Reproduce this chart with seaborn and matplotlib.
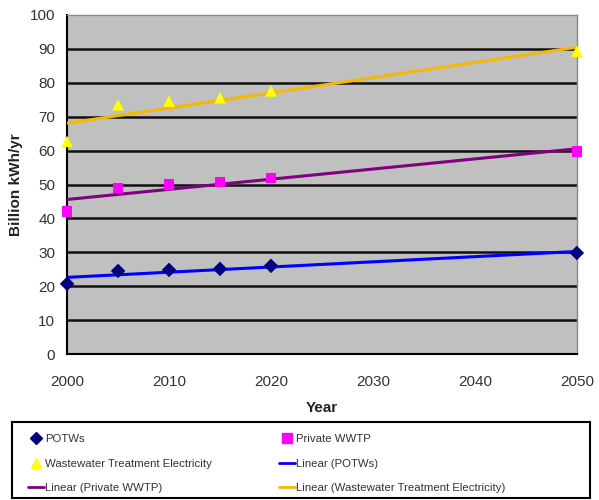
import numpy as np
import pandas as pd
import matplotlib
matplotlib.use('Agg')
import matplotlib.pyplot as plt
import seaborn as sns
from matplotlib.lines import Line2D

# Data
years = [2000, 2005, 2010, 2015, 2020, 2050]
potws = [20.7, 24.5, 24.8, 25.1, 26.0, 29.8]
private_wwtp = [42.0, 49.0, 50.0, 50.7, 52.0, 59.7]
wte = [62.7, 73.5, 74.6, 75.6, 77.6, 89.3]

sns.set_style('white')
plt.rcParams['font.family'] = ['Liberation Sans', 'DejaVu Sans']

df = pd.DataFrame({'Year': years, 'POTWs': potws,
                   'Private WWTP': private_wwtp,
                   'Wastewater Treatment Electricity': wte})

fig = plt.figure(figsize=(5.99, 5.0), dpi=100)
ax = fig.add_axes([0.112, 0.292, 0.851, 0.678])
ax.set_facecolor('#C0C0C0')

# horizontal gridlines
for yv in range(10, 100, 10):
    ax.axhline(yv, color='#111111', lw=1.8, zorder=1)

# trend lines (least squares)
sns.regplot(data=df, x='Year', y='POTWs', scatter=False, ci=None, ax=ax,
            line_kws=dict(color='#0000FF', lw=2.2, zorder=3))
sns.regplot(data=df, x='Year', y='Private WWTP', scatter=False, ci=None, ax=ax,
            line_kws=dict(color='#800080', lw=2.2, zorder=3))
sns.regplot(data=df, x='Year', y='Wastewater Treatment Electricity', scatter=False,
            ci=None, ax=ax, line_kws=dict(color='#F5B800', lw=2.2, zorder=3))

# data points
sns.scatterplot(data=df, x='Year', y='POTWs', marker='D', color='#000080', s=55,
                edgecolor='none', ax=ax, zorder=4, clip_on=False)
sns.scatterplot(data=df, x='Year', y='Private WWTP', marker='s', color='#FF00FF', s=55,
                edgecolor='none', ax=ax, zorder=4, clip_on=False)
sns.scatterplot(data=df, x='Year', y='Wastewater Treatment Electricity', marker='^',
                color='#FFFF00', s=70, edgecolor='none', ax=ax, zorder=4, clip_on=False)

ax.set_xlim(2000, 2050)
ax.set_ylim(0, 100)
ax.set_xticks(range(2000, 2051, 10))
ax.set_yticks(range(0, 101, 10))
ax.tick_params(axis='both', labelsize=11, labelcolor='#333333', color='black',
               length=5, width=1.5, direction='out')
ax.tick_params(axis='x', pad=10)
for side in ['top', 'right']:
    ax.spines[side].set_color('#888888')
    ax.spines[side].set_linewidth(1.0)
for side in ['left', 'bottom']:
    ax.spines[side].set_color('black')
    ax.spines[side].set_linewidth(1.5)

ax.set_xlabel('Year', fontsize=11, fontweight='bold', color='#222222', labelpad=9)
ax.set_ylabel('Billion kWh/yr', fontsize=11, fontweight='bold', color='#222222', labelpad=5)

# legend box under the chart
lax = fig.add_axes([12 / 599, 2 / 500, 578 / 599, 76 / 500])
lax.set_xticks([])
lax.set_yticks([])
lax.set_facecolor('white')
for sp in lax.spines.values():
    sp.set_color('black')
    sp.set_linewidth(1.5)

handles = [
    Line2D([], [], ls='none', marker='D', color='#000080', markersize=6),
    Line2D([], [], ls='none', marker='^', color='#FFFF00', markersize=7),
    Line2D([], [], color='#800080', lw=2),
    Line2D([], [], ls='none', marker='s', color='#FF00FF', markersize=7),
    Line2D([], [], color='#0000FF', lw=2),
    Line2D([], [], color='#F5B800', lw=2),
]
labels = ['POTWs', 'Wastewater Treatment Electricity', 'Linear (Private WWTP)',
          'Private WWTP', 'Linear (POTWs)', 'Linear (Wastewater Treatment Electricity)']
leg = lax.legend(handles, labels, ncol=2, loc='upper left',
                 bbox_to_anchor=(0.017, 0.92), frameon=False,
                 fontsize=8.2, handlelength=1.4, handletextpad=0.1,
                 borderaxespad=0, labelspacing=1.25, borderpad=0.55,
                 columnspacing=5.9)
for t in leg.get_texts():
    t.set_color('#333333')

fig.savefig('out.png', dpi=100)
